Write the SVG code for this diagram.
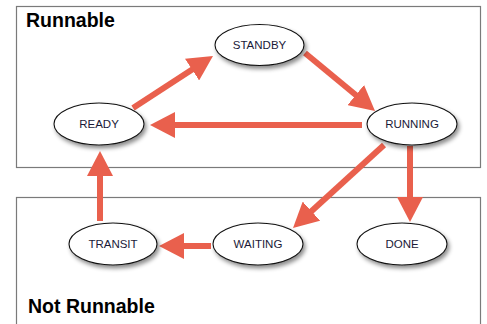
<svg xmlns="http://www.w3.org/2000/svg" width="487" height="324" viewBox="0 0 487 324">
<style>
.box{fill:#fff;stroke:#7a7a7a;stroke-width:1.2}
.title{font-family:"Liberation Sans",Arial,sans-serif;font-weight:bold;font-size:19.5px;fill:#000}
.node ellipse{fill:#fff;stroke:#111;stroke-width:1.1;filter:url(#sh)}
.node text{font-family:"Liberation Sans",Arial,sans-serif;font-size:11.5px;fill:#1a1a38;text-anchor:middle}
.edge{stroke:#e9604d;stroke-width:6;fill:none;marker-end:url(#ah)}
</style>
<defs>
<filter id="sh" x="-20%" y="-30%" width="150%" height="170%">
<feDropShadow dx="2" dy="3" stdDeviation="2" flood-color="#000" flood-opacity="0.45"/>
</filter>
<marker id="ah" markerUnits="userSpaceOnUse" markerWidth="26" markerHeight="26" refX="2" refY="13" orient="auto" viewBox="0 0 26 26">
<path d="M0,0 L25,13 L0,26 z" fill="#e9604d"/>
</marker>
</defs>
<rect class="box" x="16.5" y="6.5" width="464" height="161"/>
<rect class="box" x="16.5" y="197.5" width="464" height="140"/>
<text class="title" x="26" y="27">Runnable</text>
<text class="title" x="28" y="313">Not Runnable</text>
<g id="connectors">
<line class="edge" x1="133" y1="108" x2="193.7" y2="68.5"/>
<line class="edge" x1="305" y1="53" x2="357.3" y2="96.3"/>
<line class="edge" x1="362" y1="125" x2="173" y2="125"/>
<line class="edge" x1="384" y1="145" x2="310" y2="212.5"/>
<line class="edge" x1="410" y1="146" x2="410" y2="199"/>
<line class="edge" x1="211" y1="246" x2="182" y2="246"/>
<line class="edge" x1="100" y1="221" x2="100" y2="174"/>
</g>
<g id="ready" class="node"><ellipse cx="99" cy="124" rx="45" ry="21"/><text x="99" y="128">READY</text></g>
<g id="standby" class="node"><ellipse cx="259.5" cy="45" rx="44.5" ry="20.5"/><text x="259.5" y="49">STANDBY</text></g>
<g id="running" class="node"><ellipse cx="412" cy="124" rx="45" ry="21"/><text x="412" y="128">RUNNING</text></g>
<g id="transit" class="node"><ellipse cx="113" cy="244" rx="44" ry="21"/><text x="113" y="248">TRANSIT</text></g>
<g id="waiting" class="node"><ellipse cx="258" cy="244" rx="45" ry="21"/><text x="258" y="248">WAITING</text></g>
<g id="done" class="node"><ellipse cx="402" cy="244" rx="45" ry="21"/><text x="402" y="248">DONE</text></g>
</svg>
